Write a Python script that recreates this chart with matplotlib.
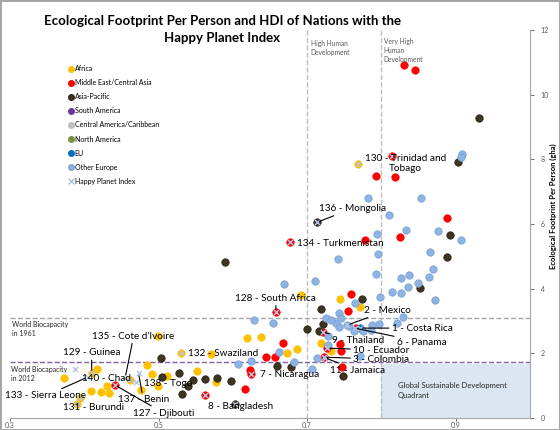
import matplotlib
matplotlib.use('Agg')
import matplotlib.pyplot as plt
from matplotlib.lines import Line2D

plt.rcParams['font.family'] = ['Lato', 'DejaVu Sans']

# HDI (x) and ecological footprint per person in gha (y), by region
africa_hdi = [0.372, 0.417, 0.410, 0.394, 0.390, 0.409, 0.423, 0.430, 0.433, 0.461,
              0.476, 0.485, 0.491, 0.499, 0.499, 0.511, 0.530, 0.552, 0.571, 0.577,
              0.619, 0.638, 0.673, 0.687, 0.692, 0.744, 0.771, 0.719, 0.732, 0.768]
africa_fp = [1.23, 1.51, 1.39, 0.62, 0.43, 0.83, 0.80, 0.99, 0.77, 1.17,
             0.86, 1.64, 1.36, 2.53, 0.99, 1.30, 2.01, 1.45, 1.98, 1.11,
             2.47, 2.50, 2.01, 2.13, 3.80, 3.67, 3.43, 2.31, 2.07, 7.87]

mideast_hdi = [0.441, 0.563, 0.617, 0.623, 0.625, 0.645, 0.657, 0.658, 0.668, 0.721,
               0.759, 0.755, 0.744, 0.746, 0.747, 0.727, 0.723, 0.766, 0.830, 0.846,
               0.814, 0.793, 0.818, 0.889, 0.778, 0.825, 0.677]
mideast_fp = [1.02, 0.71, 0.90, 1.48, 1.36, 1.88, 1.88, 3.27, 2.31, 2.65,
              3.83, 3.30, 2.28, 2.07, 1.57, 2.16, 1.88, 2.78, 10.93, 10.77,
              8.12, 7.50, 7.44, 6.20, 5.52, 5.59, 5.43]

asia_hdi = [0.503, 0.504, 0.528, 0.532, 0.539, 0.546, 0.563, 0.579, 0.603, 0.598,
            0.660, 0.700, 0.719, 0.721, 0.716, 0.774, 0.748, 0.679, 0.852, 0.888,
            0.892, 0.589, 0.713, 0.931, 0.904]
asia_fp = [1.85, 1.27, 1.39, 0.74, 0.99, 1.17, 1.20, 1.23, 0.43, 1.14,
           1.60, 2.75, 3.36, 2.90, 2.69, 3.67, 1.30, 1.57, 4.01, 4.97,
           5.65, 4.81, 6.05, 9.29, 7.93]

south_america_hdi, south_america_fp = [], []
central_america_hdi, central_america_fp = [], []
north_america_hdi, north_america_fp = [], []

eu_hdi = [0.771]
eu_fp = [2.78]

other_europe_hdi = [0.909, 0.908, 0.782, 0.853, 0.811, 0.833, 0.876, 0.794, 0.908, 0.795,
                    0.742, 0.793, 0.711, 0.669, 0.826, 0.837, 0.815, 0.826, 0.836, 0.850,
                    0.864, 0.870, 0.866, 0.873, 0.798, 0.764, 0.743, 0.746, 0.739, 0.726,
                    0.732, 0.743, 0.756, 0.763, 0.775, 0.787, 0.786, 0.797, 0.821, 0.829,
                    0.728, 0.728, 0.713, 0.771, 0.707, 0.683, 0.662, 0.629, 0.654, 0.607,
                    0.625, 0.754]
other_europe_fp = [8.18, 8.06, 6.82, 6.82, 6.27, 5.80, 5.77, 5.68, 5.52, 5.06,
                   4.91, 4.44, 4.23, 4.14, 4.32, 4.41, 3.89, 3.86, 4.04, 4.17,
                   4.35, 4.60, 5.15, 3.64, 3.73, 3.55, 3.24, 3.09, 2.93, 3.09,
                   3.02, 2.81, 2.84, 2.69, 2.69, 2.87, 2.72, 2.90, 2.93, 3.12,
                   2.53, 2.25, 1.85, 1.91, 1.51, 1.73, 2.04, 3.02, 2.93, 1.67,
                   1.76, 2.87]

# Happy Planet Index countries (rank - name); '' = unlabelled marker
hpi_labels = ['1 - Costa Rica', '2 - Mexico', '3 - Colombia', '6 - Panama', '7 - Nicaragua',
              '8 - Bangladesh', '9 - Thailand', '10 - Ecuador', '11 - Jamaica', '127 - Djibouti',
              '128 - South Africa', '129 - Guinea', '130 - Trinidad and\nTobago', '131 - Burundi',
              '132 - Swaziland', '133 - Sierra Leone', '134 - Turkmenistan', "135 - Cote d'Ivoire",
              '136 - Mongolia', '137 - Benin', '138 - Togo', '140 - Chad', '', '', '', '']
hpi_hdi = [0.771, 0.754, 0.723, 0.764, 0.625, 0.603, 0.721, 0.727, 0.724, 0.441,
           0.658, 0.410, 0.814, 0.390, 0.530, 0.405, 0.677, 0.455, 0.713, 0.473,
           0.469, 0.461, 0.387, 0.563, 0.768, 0.394]
hpi_fp = [2.78, 2.87, 1.88, 2.78, 1.36, 0.43, 2.65, 2.16, 1.86, 1.02,
          3.27, 1.39, 8.12, 0.43, 2.01, 1.27, 5.43, 1.24, 6.05, 1.39,
          1.11, 1.17, 1.51, 0.71, 7.87, 0.62]

biocap_1961 = 3.1
biocap_2012 = 1.72
hdi_high = 0.7
hdi_very_high = 0.8

# label placement: text position, alignment, leader line or not
label_layout = {
    '1 - Costa Rica': (0.814, 2.78, 'left', True),
    '2 - Mexico': (0.777, 3.33, 'left', True),
    '3 - Colombia': (0.762, 1.82, 'left', True),
    '6 - Panama': (0.821, 2.35, 'left', True),
    '7 - Nicaragua': (0.636, 1.33, 'left', False),
    '8 - Bangladesh': (0.567, 0.34, 'left', False),
    '9 - Thailand': (0.734, 2.41, 'left', True),
    '10 - Ecuador': (0.762, 2.10, 'left', True),
    '11 - Jamaica': (0.731, 1.48, 'left', True),
    '127 - Djibouti': (0.466, 0.15, 'left', True),
    '128 - South Africa': (0.658, 3.70, 'center', True),
    '129 - Guinea': (0.371, 2.01, 'left', True),
    '130 - Trinidad and\nTobago': (0.833, 7.87, 'center', False),
    '131 - Burundi': (0.371, 0.31, 'left', False),
    '132 - Swaziland': (0.540, 1.98, 'left', False),
    '133 - Sierra Leone': (0.293, 0.68, 'left', True),
    '134 - Turkmenistan': (0.687, 5.40, 'left', False),
    "135 - Cote d'Ivoire": (0.411, 2.53, 'left', True),
    '136 - Mongolia': (0.716, 6.48, 'left', True),
    '137 - Benin': (0.445, 0.56, 'left', True),
    '138 - Togo': (0.480, 1.08, 'left', False),
    '140 - Chad': (0.397, 1.23, 'left', False),
}

fig = plt.figure(figsize=(5.6, 4.3), dpi=100)
fig.patch.set_edgecolor('#A6A6A6')
fig.patch.set_linewidth(2)
ax = fig.add_axes([0.018, 0.028, 0.928, 0.902])

ax.set_xlim(0.3, 1.0)
ax.set_ylim(0, 12)

# quadrant and reference lines
ax.axvspan(hdi_very_high, 1.0, ymin=0, ymax=1.68 / 12, color='#DCE6F2', zorder=0, lw=0)
ax.axvline(hdi_high, color='#BFBFBF', ls='--', lw=1, zorder=1)
ax.axvline(hdi_very_high, color='#BFBFBF', ls='--', lw=1, zorder=1)
ax.axhline(biocap_1961, color='#A6A6A6', ls='--', lw=1, zorder=1)
ax.axhline(biocap_2012, color='#8064A2', ls='--', lw=1, zorder=1)

series = [
    ('Africa', africa_hdi, africa_fp, '#FFC000', '#FFC000'),
    ('Middle East/Central Asia', mideast_hdi, mideast_fp, '#FF0000', '#FF0000'),
    ('Asia-Pacific', asia_hdi, asia_fp, '#3D3521', '#2A2416'),
    ('South America', south_america_hdi, south_america_fp, '#7030A0', '#7030A0'),
    ('Central America/Caribbean', central_america_hdi, central_america_fp, '#BFBFBF', '#BFBFBF'),
    ('North America', north_america_hdi, north_america_fp, '#77933C', '#77933C'),
    ('EU', eu_hdi, eu_fp, '#0070C0', '#0070C0'),
    ('Other Europe', other_europe_hdi, other_europe_fp, '#8DB4E2', '#7AA3D6'),
]
handles = []
for name, xs, ys, fc, ec in series:
    ax.scatter(xs, ys, s=28, c=fc, edgecolors=ec, linewidths=0.6, zorder=3)
    handles.append(Line2D([], [], ls='', marker='o', ms=4, mfc=fc, mec=ec, label=name))

ax.scatter(hpi_hdi, hpi_fp, s=14, marker='x', c='#B4C4E2', linewidths=1.0, zorder=4)
handles.append(Line2D([], [], ls='', marker='x', ms=4, mec='#9FB2D6', mew=0.8,
                      label='Happy Planet Index'))

for name, hx, hy in zip(hpi_labels, hpi_hdi, hpi_fp):
    if not name:
        continue
    tx, ty, ha, leader = label_layout[name]
    if leader:
        ax.annotate(name, xy=(hx, hy), xytext=(tx, ty), ha=ha, va='center',
                    fontsize=7.2, zorder=5,
                    arrowprops=dict(arrowstyle='-', color='black', lw=0.8,
                                    shrinkA=0, shrinkB=2))
    else:
        ax.text(tx, ty, name, ha=ha, va='center', fontsize=7.2, zorder=5)

# zone captions
ax.text(0.705, 11.7, 'High Human\nDevelopment', fontsize=4.8, color='#595959',
        va='top', linespacing=1.3)
ax.text(0.803, 11.75, 'Very High\nHuman\nDevelopment', fontsize=4.8, color='#595959',
        va='top', linespacing=1.3)
ax.text(0.303, 3.0, 'World Biocapacity\nin 1961', fontsize=5, color='#262626',
        va='top', linespacing=1.4)
ax.text(0.301, 1.62, 'World Biocapacity\nin 2012', fontsize=5, color='#262626',
        va='top', linespacing=1.4)
ax.text(0.822, 0.85, 'Global Sustainable Development\nQuadrant', fontsize=5.5,
        color='#262626', va='center', linespacing=1.5)

# axes: only right y-axis and bottom x-axis
for side in ['top', 'left']:
    ax.spines[side].set_visible(False)
ax.spines['right'].set_color('#A6A6A6')
ax.spines['bottom'].set_color('#A6A6A6')
ax.yaxis.tick_right()
ax.set_yticks([0, 2, 4, 6, 8, 10, 12])
ax.set_xticks([0.3, 0.5, 0.7, 0.9])
ax.set_xticklabels(['0.3', '0.5', '0.7', '0.9'])
ax.tick_params(axis='both', labelsize=5, colors='#595959', length=3, width=0.6)
ax.tick_params(axis='y', pad=5)
ax.tick_params(axis='x', pad=1, length=2)

fig.text(0.989, 0.52, 'Ecological Footprint Per Person (gha)', rotation=90,
         ha='center', va='center', fontsize=5.5, fontweight='bold')

# two-line title, centred over the left part of the chart
fig.text(0.397, 0.951, 'Ecological Footprint Per Person and HDI of Nations with the',
         ha='center', va='center', fontsize=9.5, fontweight='bold')
fig.text(0.397, 0.911, 'Happy Planet Index',
         ha='center', va='center', fontsize=9.5, fontweight='bold')

fig.legend(handles=handles, loc='upper left', bbox_to_anchor=(0.115, 0.855),
           frameon=False, fontsize=5, handletextpad=0.1, labelspacing=1.02,
           handlelength=1.0, borderaxespad=0)

fig.savefig('out.png', dpi=100)
